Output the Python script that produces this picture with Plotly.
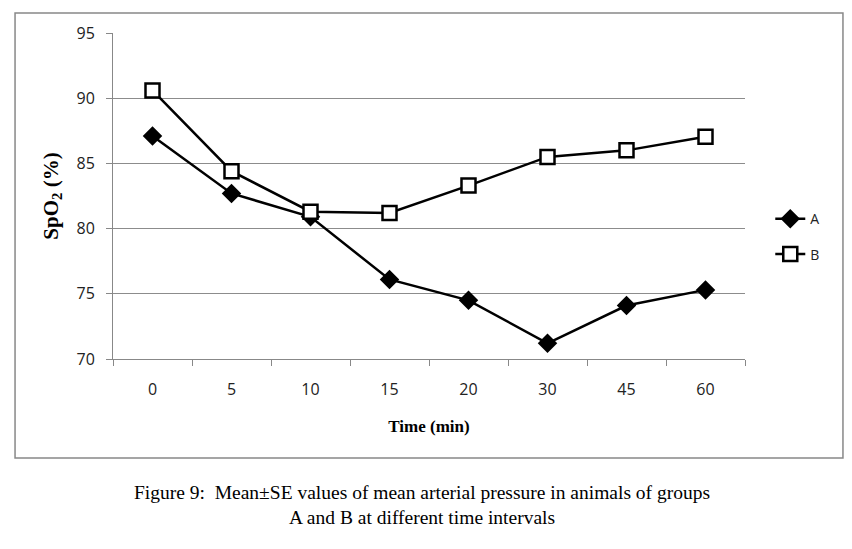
import plotly.graph_objects as go

# ----- data
times = ["0", "5", "10", "15", "20", "30", "45", "60"]
group_a = [87.1, 82.7, 80.9, 76.1, 74.5, 71.2, 74.1, 75.3]
group_b = [90.6, 84.4, 81.3, 81.2, 83.3, 85.5, 86.0, 87.05]
y_ticks = [70, 75, 80, 85, 90, 95]

fig = go.Figure()

fig.add_trace(go.Scatter(
    x=times, y=group_a, name="A", mode="lines+markers", legendgroup="a",
    line=dict(color="black", width=2.5),
    marker=dict(symbol="diamond", size=15, color="black"),
))
fig.add_trace(go.Scatter(
    x=times, y=group_b, name="B", mode="lines+markers", legendgroup="b",
    line=dict(color="black", width=2.5),
    marker=dict(symbol="square", size=14, color="white",
                line=dict(color="black", width=2.5)),
))

# page body has an 8px margin, so margins are shifted by that
fig.update_layout(
    width=852, height=549,
    margin=dict(l=105, r=115, t=25, b=198),
    paper_bgcolor="white", plot_bgcolor="white",
    font=dict(family="Open Sans", size=16, color="#222222"),
    showlegend=True,
    legend=dict(x=1.04, y=0.375, xanchor="left", yanchor="middle",
                font=dict(size=14), tracegroupgap=14, itemwidth=30),
    xaxis=dict(
        type="category", range=[-0.5, 7.5],
        showgrid=False, showline=True, linecolor="#888888", linewidth=1,
        ticks="outside", tickson="boundaries", ticklen=6, tickcolor="#888888",
        ticklabelstandoff=16,
        title=dict(text="<b>Time (min)</b>", standoff=20,
                   font=dict(family="Liberation Serif", size=17, color="black")),
    ),
    yaxis=dict(
        range=[70, 95], tickvals=y_ticks,
        showgrid=True, gridcolor="#8c8c8c", gridwidth=1,
        showline=True, linecolor="#888888", linewidth=1,
        ticks="outside", ticklen=6, tickcolor="#888888",
        ticklabelstandoff=8, zeroline=False,
        title=dict(text="<b>SpO<sub>2</sub> (%)</b>", standoff=12,
                   font=dict(family="Liberation Serif", size=21, color="black")),
    ),
    shapes=[dict(type="rect", xref="paper", yref="paper",
                 x0=-0.155, x1=1.155, y0=-0.3037, y1=1.0613,
                 line=dict(color="#888888", width=1.5))],
    annotations=[dict(
        xref="paper", yref="paper", x=0.489, y=-0.37,
        xanchor="center", yanchor="top", showarrow=False,
        text="Figure 9:  Mean±SE values of mean arterial pressure in animals of groups<br>A and B at different time intervals",
        font=dict(family="Liberation Serif", size=19.5, color="black"),
    )],
)

fig.write_html("out.html")
